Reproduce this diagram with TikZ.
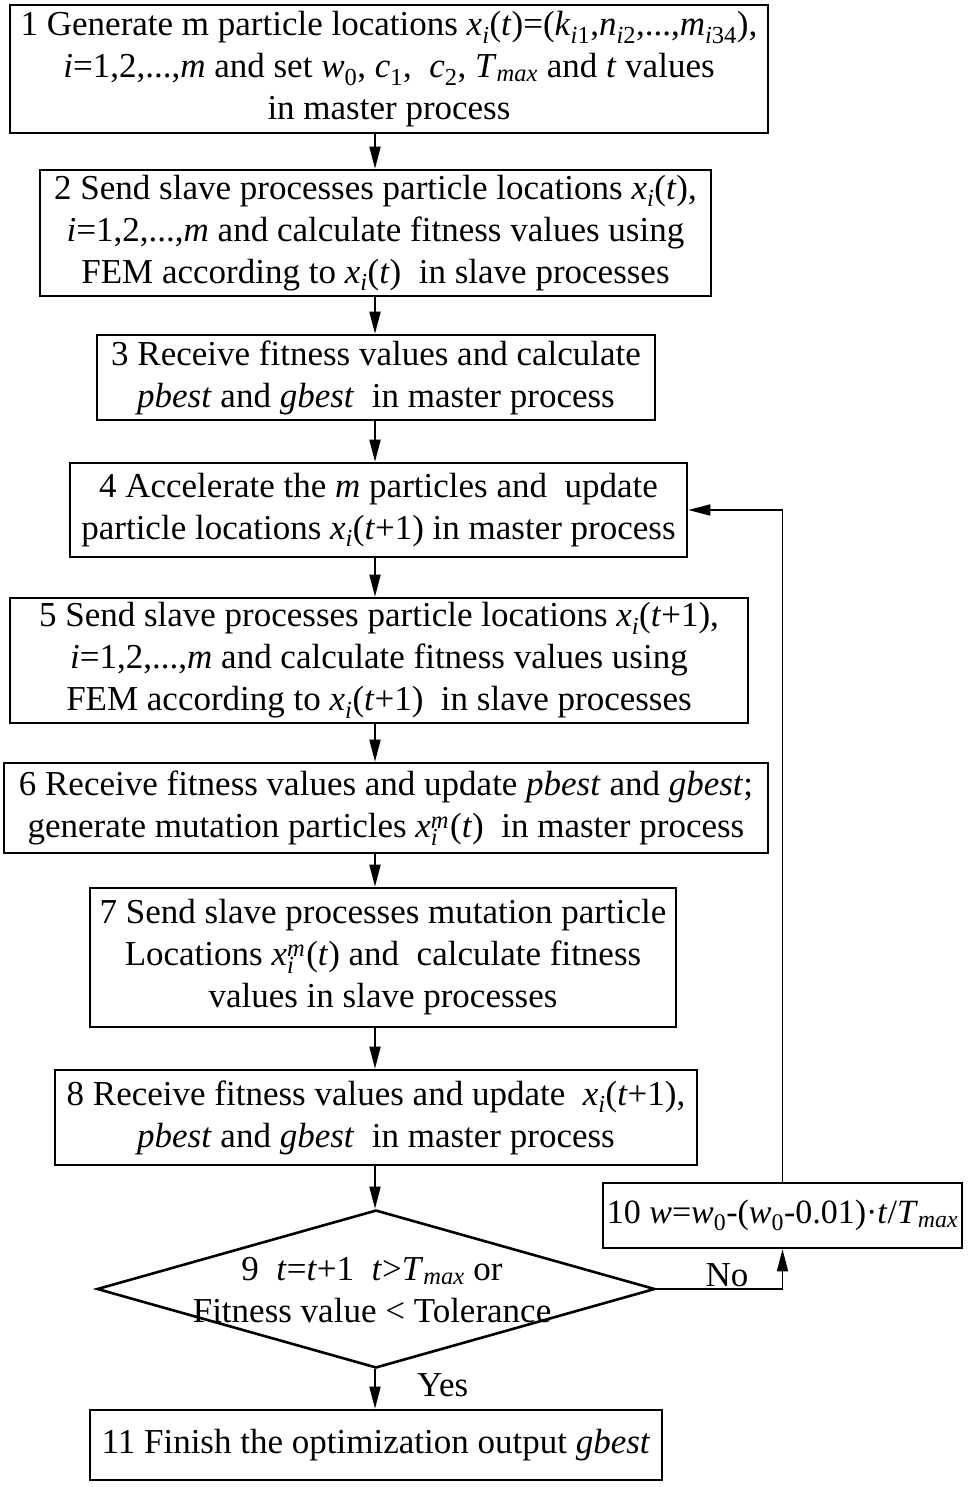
\documentclass[tikz,border=0pt]{standalone}
\usepackage{fontspec}
\setmainfont{Liberation Serif}
\usetikzlibrary{shapes.geometric,arrows.meta}
\newcommand\vx{\textit{x}\textsubscript{\textit{i}}}
\newcommand\vxm{\textit{x}\rlap{\textsubscript{\textit{i}}}\textsuperscript{\textit{m}}\kern1pt}
\newcommand\tmax{\textit{T}\textsubscript{\textit{max}}}
\begin{document}
\begin{tikzpicture}[x=1pt,y=-1pt,
  box/.style={draw,line width=2.6pt,align=center,inner sep=2pt,font=\fontsize{35}{42}\selectfont},
  conn/.style={line width=1.8pt,-{Triangle[length=22pt,width=11pt]}},
  lbl/.style={font=\fontsize{35}{42}\selectfont}]
\useasboundingbox (0,0) rectangle (969,1487);
\fill[white] (0,0) rectangle (969,1487);
\coordinate (ax) at (375,0);
\node[box,minimum width=758pt,minimum height=128pt] (b1) at (389,69) {1 Generate m particle locations \vx(\textit{t})=(\textit{k}\textsubscript{\textit{i}1},\textit{n}\textsubscript{\textit{i}2},...,\textit{m}\textsubscript{\textit{i}34}),\\ \textit{i}=1,2,...,\textit{m} and set \textit{w}\textsubscript{0}, \textit{c}\textsubscript{1},~ \textit{c}\textsubscript{2}, \tmax{} and \textit{t} values\\ in master process};
\node[box,minimum width=671pt,minimum height=126pt] (b2) at (375.5,233) {2 Send slave processes particle locations \vx(\textit{t}),\\ \textit{i}=1,2,...,\textit{m} and calculate fitness values using\\ FEM according to \vx(\textit{t})~ in slave processes};
\node[box,minimum width=558pt,minimum height=85pt] (b3) at (376,377.5) {3 Receive fitness values and calculate\\ \textit{pbest} and \textit{gbest}~ in master process};
\node[box,minimum width=617pt,minimum height=94pt] (b4) at (378.5,510) {4 Accelerate the \textit{m} particles and~ update\\ particle locations \vx(\textit{t}+1) in master process};
\node[box,minimum width=738pt,minimum height=125pt] (b5) at (379,660.5) {5 Send slave processes particle locations \vx(\textit{t}+1),\\ \textit{i}=1,2,...,\textit{m} and calculate fitness values using\\ FEM according to \vx(\textit{t}+1)~ in slave processes};
\node[box,minimum width=764pt,minimum height=90pt] (b6) at (386,808) {6 Receive fitness values and update \textit{pbest} and \textit{gbest};\\ generate mutation particles \vxm(\textit{t})~ in master process};
\node[box,minimum width=586pt,minimum height=139pt] (b7) at (383,957.5) {7 Send slave processes mutation particle\\ Locations \vxm(\textit{t}) and~ calculate fitness\\ values in slave processes};
\node[box,minimum width=642pt,minimum height=95pt] (b8) at (376,1117.5) {8 Receive fitness values and update~ \vx(\textit{t}+1),\\ \textit{pbest} and \textit{gbest}~ in master process};
\node[draw,line width=2.6pt,diamond,inner sep=0pt,minimum width=558pt,minimum height=158pt] (d9) at (376,1289) {};
\node[lbl,align=center] (t9) at (372,1290) {9~~\textit{t}=\textit{t}+1~~\textit{t}>\tmax{} or\\ Fitness value < Tolerance};
\node[box,minimum width=359pt,minimum height=65pt,inner sep=1pt,font=\fontsize{34}{42}\selectfont] (b10) at (782.5,1215.5) {10 \textit{w}=\textit{w}\textsubscript{0}-(\textit{w}\textsubscript{0}-0.01)·\textit{t}/\tmax};
\node[box,minimum width=572pt,minimum height=70pt] (b11) at (376,1445) {11 Finish the optimization output \textit{gbest}};
\draw[conn] (b1.south -| ax) -- (b2.north -| ax);
\draw[conn] (b2.south -| ax) -- (b3.north -| ax);
\draw[conn] (b3.south -| ax) -- (b4.north -| ax);
\draw[conn] (b4.south -| ax) -- (b5.north -| ax);
\draw[conn] (b5.south -| ax) -- (b6.north -| ax);
\draw[conn] (b6.south -| ax) -- (b7.north -| ax);
\draw[conn] (b7.south -| ax) -- (b8.north -| ax);
\draw[conn] (b8.south -| ax) -- (d9.north -| ax);
\draw[conn] (d9.south -| ax) -- node[lbl,right=38pt,pos=0.4] (yes) {Yes} (b11.north -| ax);
\draw[conn] (d9.east) -| node[lbl,above=-2pt,pos=0.28] (no) {No} (b10.south);
\draw[conn] (b10.north) |- (b4.east);
\end{tikzpicture}
\end{document}
